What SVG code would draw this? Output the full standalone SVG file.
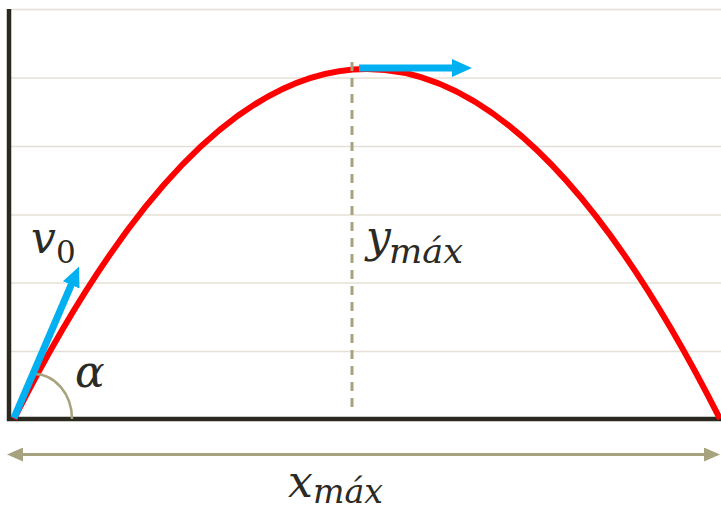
<svg xmlns="http://www.w3.org/2000/svg" width="721" height="511" viewBox="0 0 721 511">
<defs>
<style>
.grid{stroke:#e4e0d6;stroke-width:1.6;fill:none}
.axis{stroke:#2b281f;stroke-width:4.5;fill:none}
.olive{stroke:#a7a37f;fill:none}
.blue{stroke:#00b0f0;stroke-width:7;fill:none}
.lbl{font-family:"DejaVu Serif","Liberation Serif",serif;font-style:italic;fill:#2b2a24}
.up{font-style:normal}
</style>
<marker id="bh" markerUnits="userSpaceOnUse" viewBox="0 0 20 20" refX="2" refY="10" markerWidth="20" markerHeight="20" orient="auto">
<path d="M0,1 L20,10 L0,19 Z" fill="#00b0f0"/>
</marker>
<marker id="oh" markerUnits="userSpaceOnUse" viewBox="0 0 16 14" refX="2" refY="7" markerWidth="16" markerHeight="14" orient="auto-start-reverse">
<path d="M0,0 L16,7 L0,14 Z" fill="#a7a37f"/>
</marker>
</defs>
<rect width="721" height="511" fill="#ffffff"/>
<g id="grid">
<line class="grid" x1="11" y1="9.5" x2="721" y2="9.5"/>
<line class="grid" x1="11" y1="78" x2="721" y2="78"/>
<line class="grid" x1="11" y1="146.5" x2="721" y2="146.5"/>
<line class="grid" x1="11" y1="215" x2="721" y2="215"/>
<line class="grid" x1="11" y1="283" x2="721" y2="283"/>
<line class="grid" x1="11" y1="351.5" x2="721" y2="351.5"/>
</g>
<g id="axes">
<path class="axis" d="M9,9 V419 H721"/>
</g>
<g id="trajectory">
<path d="M14,419 Q367,-281 720,419" fill="none" stroke="#ff0000" stroke-width="6"/>
</g>
<g id="angle-arc">
<path class="olive" stroke-width="2.5" d="M34,374 A38,45 0 0 1 72,419"/>
</g>
<g id="connectors">
<line class="olive" stroke-width="3" stroke-dasharray="9,7" x1="352" y1="62" x2="352" y2="414"/>
<line class="blue" x1="14" y1="418" x2="72" y2="283" marker-end="url(#bh)"/>
<line class="blue" x1="359" y1="68" x2="454" y2="68" marker-end="url(#bh)"/>
<line class="olive" stroke-width="3" x1="21" y1="454.5" x2="706" y2="454.5" marker-start="url(#oh)" marker-end="url(#oh)"/>
</g>
<g id="label-v0">
<text class="lbl" x="31" y="253" font-size="44">v</text>
<text class="lbl up" x="56" y="263" font-size="31">0</text>
</g>
<g id="label-alpha">
<text class="lbl" x="75" y="387" font-size="44">α</text>
</g>
<g id="label-ymax">
<text class="lbl" x="366" y="252" font-size="44">y</text>
<text class="lbl" x="389" y="263" font-size="34" textLength="74" lengthAdjust="spacingAndGlyphs">máx</text>
</g>
<g id="label-xmax">
<text class="lbl" x="288" y="497" font-size="44">x</text>
<text class="lbl" x="313" y="503" font-size="34" textLength="70" lengthAdjust="spacingAndGlyphs">máx</text>
</g>
</svg>
